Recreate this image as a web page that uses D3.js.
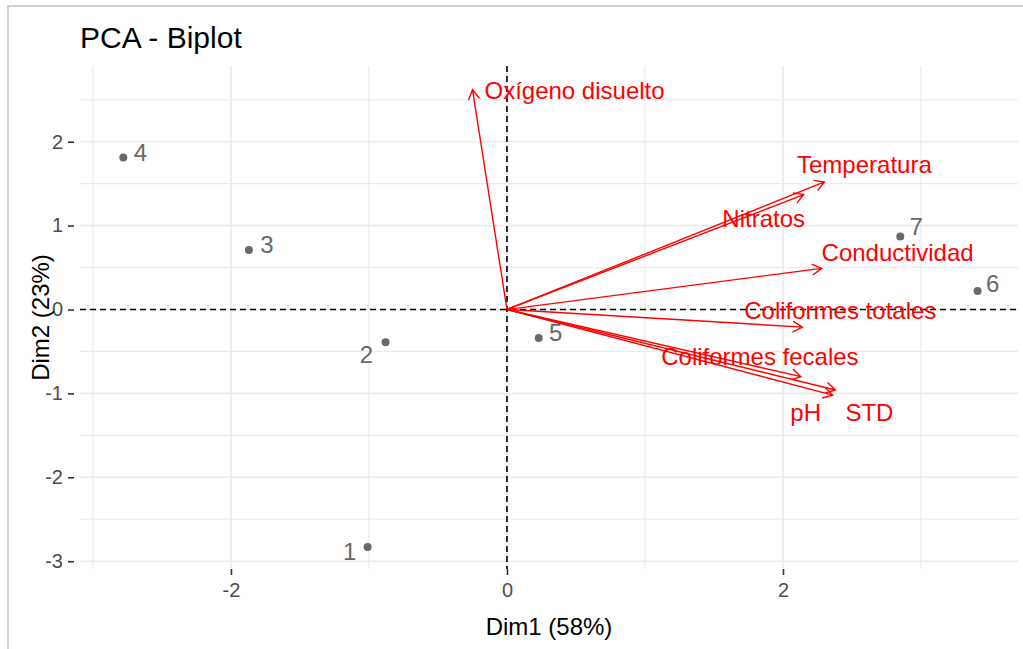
<!DOCTYPE html>
<html>
<head>
<meta charset="utf-8">
<script src="https://cdn.jsdelivr.net/npm/d3@7"></script>
<style>
    body { margin: 0; background: #fff; }
    text { font-family: "Liberation Sans", Arial, sans-serif; }
</style>
</head>
<body>
<div id="chart"></div>
<script>
// individuals (scores on Dim1 / Dim2)
const indNames = ["1", "2", "3", "4", "5", "6", "7"];
const indDim1 = [-1.01, -0.88, -1.87, -2.78, 0.23, 3.41, 2.85];
const indDim2 = [-2.83, -0.39, 0.71, 1.81, -0.34, 0.22, 0.87];

// variables (arrow tips)
const varNames = ["Oxígeno disuelto", "Temperatura", "Nitratos", "Conductividad",
    "Coliformes totales", "Coliformes fecales", "pH", "STD"];
const varDim1 = [-0.25, 2.30, 2.15, 2.28, 2.14, 2.13, 2.36, 2.38];
const varDim2 = [2.62, 1.52, 1.37, 0.49, -0.21, -0.80, -1.02, -0.96];

const xTicks = [-2, 0, 2];
const yTicks = [-3, -2, -1, 0, 1, 2];
const xMinor = [-3, -1, 1, 3];
const yMinor = [-2.5, -1.5, -0.5, 0.5, 1.5, 2.5];

// label placement (pixels, like ggrepel did it)
const indNudge = [[-18, 5], [-19, 12], [18, -5], [17, -5], [17, -5], [15, -7], [16, -10]];
const varNudge = [[12, 1], [40, -17], [-40, 24], [76, -16], [38, -17], [-41, -20], [-27, 18], [34, 23]];
const varAnchor = ["start", "middle", "middle", "middle", "middle", "middle", "middle", "middle"];

class BiplotVis {
    constructor(parentElement) {
        this.parentElement = parentElement;
        this.initVis();
    }

    initVis() {
        let vis = this;

        vis.W = 1023;
        vis.H = 649;
        vis.margin = {top: 66, right: 5, bottom: 80, left: 80};
        vis.width = vis.W - vis.margin.left - vis.margin.right;
        vis.height = vis.H - vis.margin.top - vis.margin.bottom;

        vis.root = d3.select("#" + vis.parentElement).append("svg")
            .attr("width", vis.W)
            .attr("height", vis.H);

        // outer frame
        vis.root.append("path")
            .attr("d", `M8,${vis.H} L8,6 L${vis.W},6`)
            .attr("fill", "none")
            .attr("stroke", "#d0d0d0")
            .attr("stroke-width", 2);

        vis.root.append("text")
            .attr("x", 80)
            .attr("y", 48)
            .attr("font-size", 30)
            .attr("fill", "#000")
            .text("PCA - Biplot");

        vis.svg = vis.root.append("g")
            .attr("transform", `translate(${vis.margin.left}, ${vis.margin.top})`);

        vis.x = d3.scaleLinear().domain([-3.094, 3.703]).range([0, vis.width]);
        vis.y = d3.scaleLinear().domain([-3.093, 2.902]).range([vis.height, 0]);

        vis.updateVis();
    }

    updateVis() {
        let vis = this;
        const grid = "#ebebeb";

        // grid
        vis.svg.selectAll(".vminor").data(xMinor).enter().append("line")
            .attr("x1", d => vis.x(d)).attr("x2", d => vis.x(d))
            .attr("y1", 0).attr("y2", vis.height)
            .attr("stroke", grid).attr("stroke-width", 1.2);
        vis.svg.selectAll(".hminor").data(yMinor).enter().append("line")
            .attr("y1", d => vis.y(d)).attr("y2", d => vis.y(d))
            .attr("x1", 0).attr("x2", vis.width)
            .attr("stroke", grid).attr("stroke-width", 1.2);
        vis.svg.selectAll(".vmajor").data(xTicks).enter().append("line")
            .attr("x1", d => vis.x(d)).attr("x2", d => vis.x(d))
            .attr("y1", 0).attr("y2", vis.height)
            .attr("stroke", grid).attr("stroke-width", 1.6);
        vis.svg.selectAll(".hmajor").data(yTicks).enter().append("line")
            .attr("y1", d => vis.y(d)).attr("y2", d => vis.y(d))
            .attr("x1", 0).attr("x2", vis.width)
            .attr("stroke", grid).attr("stroke-width", 1.6);

        // axes
        vis.xAxis = d3.axisBottom(vis.x).tickValues(xTicks).tickFormat(d => String(d))
            .tickSize(6).tickPadding(8);
        vis.yAxis = d3.axisLeft(vis.y).tickValues(yTicks).tickFormat(d => String(d))
            .tickSize(6).tickPadding(5);

        const xg = vis.svg.append("g")
            .attr("transform", `translate(0, ${vis.height})`)
            .call(vis.xAxis);
        const yg = vis.svg.append("g")
            .attr("transform", "translate(-6, 0)")
            .call(vis.yAxis);
        [xg, yg].forEach(g => {
            g.select(".domain").remove();
            g.selectAll(".tick line").attr("stroke", "#333").attr("stroke-width", 1.6);
            g.selectAll(".tick text")
                .attr("font-size", 20)
                .attr("fill", "#4d4d4d")
                .attr("font-family", "Liberation Sans, Arial, sans-serif");
        });

        vis.svg.append("text")
            .attr("x", vis.width / 2)
            .attr("y", vis.height + 66)
            .attr("text-anchor", "middle")
            .attr("font-size", 24)
            .text("Dim1 (58%)");

        vis.svg.append("text")
            .attr("transform", `translate(-31, ${vis.height / 2}) rotate(-90)`)
            .attr("text-anchor", "middle")
            .attr("font-size", 24)
            .text("Dim2 (23%)");

        // reference lines
        vis.svg.append("line")
            .attr("x1", 0).attr("x2", vis.width)
            .attr("y1", vis.y(0)).attr("y2", vis.y(0))
            .attr("stroke", "#000").attr("stroke-width", 1.6)
            .attr("stroke-dasharray", "6,4");
        vis.svg.append("line")
            .attr("y1", 0).attr("y2", vis.height)
            .attr("x1", vis.x(0)).attr("x2", vis.x(0))
            .attr("stroke", "#000").attr("stroke-width", 1.6)
            .attr("stroke-dasharray", "6,4");

        // individuals
        vis.ind = indNames.map((n, i) => ({name: n, x: indDim1[i], y: indDim2[i], nudge: indNudge[i]}));

        vis.svg.selectAll(".ind").data(vis.ind).enter().append("circle")
            .attr("class", "ind")
            .attr("cx", d => vis.x(d.x))
            .attr("cy", d => vis.y(d.y))
            .attr("r", 4)
            .style("fill", "#696969");

        vis.svg.selectAll(".indlab").data(vis.ind).enter().append("text")
            .attr("class", "indlab")
            .attr("x", d => vis.x(d.x) + d.nudge[0])
            .attr("y", d => vis.y(d.y) + d.nudge[1])
            .attr("dy", "0.35em")
            .attr("text-anchor", "middle")
            .attr("font-size", 24)
            .attr("fill", "#696969")
            .text(d => d.name);

        // variables
        vis.vars = varNames.map((n, i) => ({name: n, x: varDim1[i], y: varDim2[i],
            nudge: varNudge[i], anchor: varAnchor[i]}));

        const x0 = vis.x(0), y0 = vis.y(0);
        const headLen = 11, headAng = Math.PI / 6;

        vis.svg.selectAll(".arrow").data(vis.vars).enter().append("path")
            .attr("class", "arrow")
            .attr("fill", "none")
            .attr("stroke", "#ff0000")
            .attr("stroke-width", 1.4)
            .attr("d", d => {
                let tx = vis.x(d.x), ty = vis.y(d.y);
                let a = Math.atan2(ty - y0, tx - x0);
                let p1 = [tx - headLen * Math.cos(a - headAng), ty - headLen * Math.sin(a - headAng)];
                let p2 = [tx - headLen * Math.cos(a + headAng), ty - headLen * Math.sin(a + headAng)];
                return `M${x0},${y0}L${tx},${ty}M${p1[0]},${p1[1]}L${tx},${ty}L${p2[0]},${p2[1]}`;
            });

        vis.svg.selectAll(".varlab").data(vis.vars).enter().append("text")
            .attr("class", "varlab")
            .attr("x", d => vis.x(d.x) + d.nudge[0])
            .attr("y", d => vis.y(d.y) + d.nudge[1])
            .attr("dy", "0.35em")
            .attr("text-anchor", d => d.anchor)
            .attr("font-size", 24)
            .attr("fill", "#ff0000")
            .text(d => d.name);
    }
}

new BiplotVis("chart");
</script>
</body>
</html>
